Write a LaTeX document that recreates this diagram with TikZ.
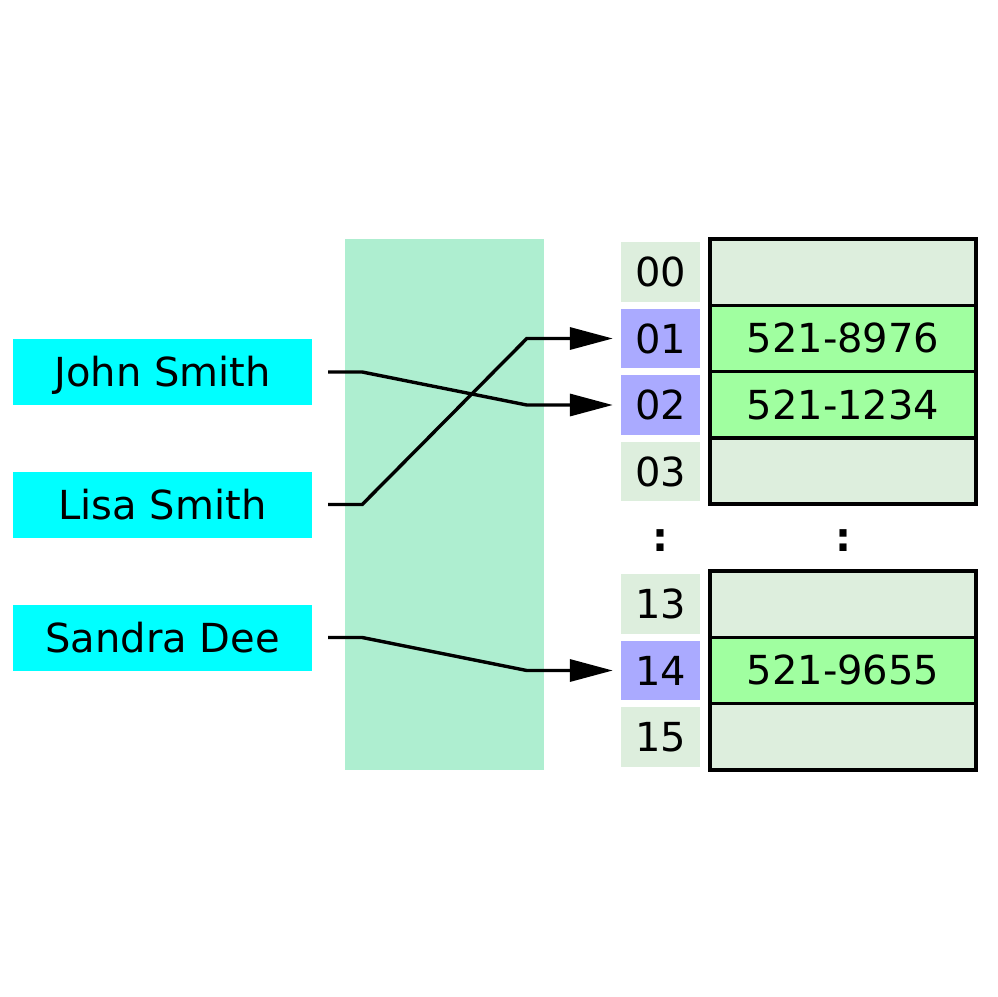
\documentclass[tikz,border=0pt]{standalone}
\usepackage{fontspec}
\setmainfont{DejaVu Sans}
\usetikzlibrary{arrows.meta,calc}
\definecolor{namecol}{RGB}{0,255,255}
\definecolor{hashcol}{RGB}{174,238,208}
\definecolor{emptycol}{RGB}{221,238,221}
\definecolor{bluecol}{RGB}{170,170,255}
\definecolor{fullcol}{RGB}{160,255,160}
\tikzset{
  txt/.style={font=\fontsize{40}{48}\selectfont,text height=29pt,text depth=0pt},
  namebox/.style={txt,fill=namecol,minimum width=299pt,minimum height=66pt,inner sep=0pt},
  idxbox/.style={txt,minimum width=79pt,minimum height=59.5pt,inner sep=0pt},
  idxempty/.style={idxbox,fill=emptycol},
  idxfull/.style={idxbox,fill=bluecol},
  cell/.style={txt,draw=black,line width=3.4pt,minimum width=266pt,minimum height=66.3pt,inner sep=0pt},
  cellempty/.style={cell,fill=emptycol},
  cellfull/.style={cell,fill=fullcol},
  conn/.style={line width=3.4pt,-{Triangle[length=43pt,width=22pt]}},
  dotlbl/.style={font=\fontsize{40}{48}\selectfont\bfseries,inner sep=0pt}
}
\begin{document}
\begin{tikzpicture}[x=1pt,y=-1pt]
\useasboundingbox (0,0) rectangle (998,996);
\fill[white] (0,0) rectangle (998,996);
% hash function area
\node[fill=hashcol,minimum width=199pt,minimum height=531pt,inner sep=0pt] (hash) at (444.5,504.5) {};
% names
\node[namebox] (john) at (162.5,372) {John Smith};
\node[namebox] (lisa) at (162.5,504.5) {Lisa Smith};
\node[namebox] (sandra) at (162.5,637.5) {Sandra Dee};
% index boxes
\node[idxempty] (i00) at (660.5,272) {00};
\node[idxfull] (i01) at (660.5,338.5) {01};
\node[idxfull] (i02) at (660.5,405) {02};
\node[idxempty] (i03) at (660.5,471.5) {03};
\node[idxempty] (i13) at (660.5,604) {13};
\node[idxfull] (i14) at (660.5,670.5) {14};
\node[idxempty] (i15) at (660.5,737) {15};
% cells
\node[cellempty] (c00) at (843,272.1) {};
\node[cellfull] (c01) at (843,338.4) {521-8976};
\node[cellfull] (c02) at (843,404.7) {521-1234};
\node[cellempty] (c03) at (843,471) {};
\node[cellempty] (c13) at (843,604.1) {};
\node[cellfull] (c14) at (843,670.4) {521-9655};
\node[cellempty] (c15) at (843,736.7) {};
% dots
\node[dotlbl] (d1) at (660.5,540.5) {:};
\node[dotlbl] (d2) at (843,540.5) {:};
% connectors
\draw[conn] ([xshift=16pt]john.east) -- ++(34,0) -- ([xshift=-94pt]i02.west) -- ([xshift=-8pt]i02.west);
\draw[conn] ([xshift=16pt]lisa.east) -- ++(34,0) -- ([xshift=-94pt]i01.west) -- ([xshift=-8pt]i01.west);
\draw[conn] ([xshift=16pt]sandra.east) -- ++(34,0) -- ([xshift=-94pt]i14.west) -- ([xshift=-8pt]i14.west);
\end{tikzpicture}
\end{document}
